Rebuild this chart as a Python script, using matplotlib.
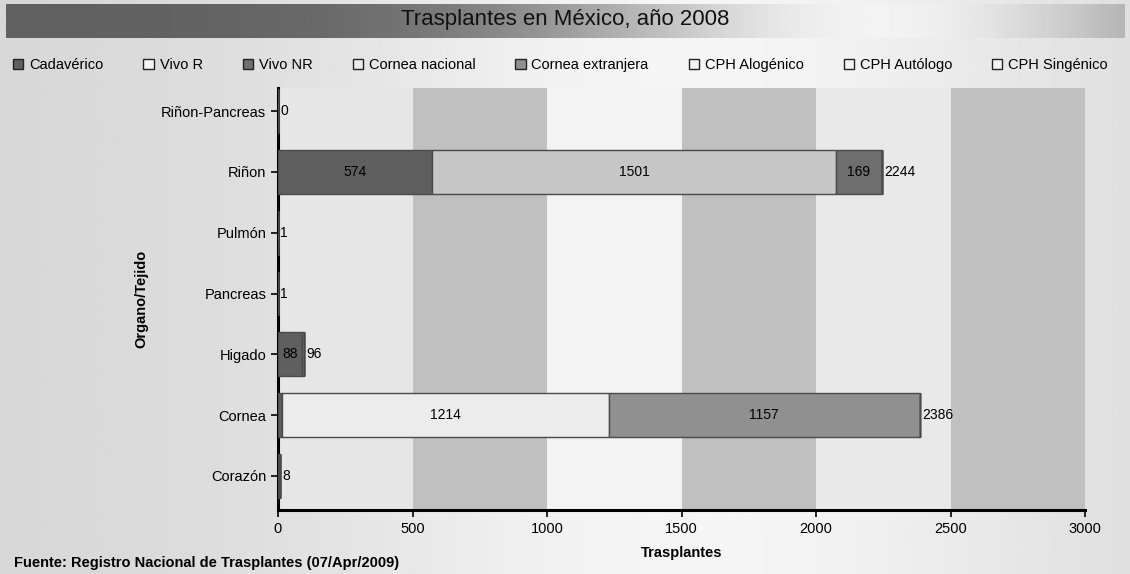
import numpy as np
import matplotlib
matplotlib.use('Agg')
import matplotlib.pyplot as plt
from matplotlib.patches import Patch

plt.rcParams['font.family'] = ['Liberation Sans', 'DejaVu Sans']

# organs, top to bottom
organos = ["Riñon-Pancreas", "Riñon", "Pulmón", "Pancreas", "Higado", "Cornea", "Corazón"]
series = ["Cadavérico", "Vivo R", "Vivo NR", "Cornea nacional", "Cornea extranjera",
          "CPH Alogénico", "CPH Autólogo", "CPH Singénico"]
cadaverico = [0, 574, 1, 1, 88, 15, 8]
vivo_r = [0, 1501, 0, 0, 8, 0, 0]
vivo_nr = [0, 169, 0, 0, 0, 0, 0]
cornea_nac = [0, 0, 0, 0, 0, 1214, 0]
cornea_ext = [0, 0, 0, 0, 0, 1157, 0]
cph_alo = [0, 0, 0, 0, 0, 0, 0]
cph_auto = [0, 0, 0, 0, 0, 0, 0]
cph_sin = [0, 0, 0, 0, 0, 0, 0]
values = [cadaverico, vivo_r, vivo_nr, cornea_nac, cornea_ext, cph_alo, cph_auto, cph_sin]
colors = ["#5f5f5f", "#c6c6c6", "#6e6e6e", "#ececec", "#909090", "#f4f4f4", "#f4f4f4", "#f4f4f4"]
xticks = [0, 500, 1000, 1500, 2000, 2500, 3000]

fig = plt.figure(figsize=(11.3, 5.74), dpi=100)

# background gradient
bg = fig.add_axes([0, 0, 1, 1], zorder=-10)
xx = np.linspace(0, 1, 400)
grad = 0.84 + 0.12 * np.exp(-((xx - 0.62) / 0.35) ** 2)
bg.imshow(np.tile(grad, (10, 1)), cmap='gray', vmin=0, vmax=1, aspect='auto',
          extent=[0, 1, 0, 1], origin='lower')
# title bar
tgrad = 0.38 + 0.57 * np.exp(-((xx - 0.78) / 0.30) ** 2)
bg.imshow(np.tile(tgrad, (10, 1)), cmap='gray', vmin=0, vmax=1, aspect='auto',
          extent=[0.005, 0.995, 1 - 38 / 574, 1 - 4 / 574], origin='lower')
bg.set_xlim(0, 1)
bg.set_ylim(0, 1)
bg.axis('off')
bg.text(0.5, 1 - 20 / 574, "Trasplantes en México, año 2008", ha='center', va='center',
        fontsize=16, color='#111111')

ax = fig.add_axes([278 / 1130, 64 / 574, 807 / 1130, 422 / 574])
ax.set_facecolor('none')
band_colors = ['#e6e6e6', '#c0c0c0', '#f3f3f3', '#c0c0c0', '#e9e9e9', '#c0c0c0']
for i, c in enumerate(band_colors):
    ax.axvspan(xticks[i], xticks[i + 1], color=c, zorder=0, lw=0)

y = np.arange(len(organos))
left = np.zeros(len(organos))
for s, vals, c in zip(series, values, colors):
    vals = np.array(vals, dtype=float)
    bars = ax.barh(y, vals, left=left, height=0.72, color=c, edgecolor='#4a4a4a',
                   linewidth=1.0, zorder=3)
    for b, v in zip(bars, vals):
        if v >= 50:
            ax.text(b.get_x() + b.get_width() / 2, b.get_y() + b.get_height() / 2,
                    f"{int(v)}", ha='center', va='center', fontsize=10, zorder=4)
    left += vals

for yi, tot in zip(y, left):
    ax.text(tot + 8, yi, f"{int(tot)}", ha='left', va='center', fontsize=10, zorder=4)

ax.set_xlim(0, 3000)
ax.set_ylim(6.56, -0.38)
ax.set_yticks(y)
ax.set_yticklabels(organos, fontsize=10.5)
ax.set_xticks(xticks)
ax.set_xticklabels([str(t) for t in xticks], fontsize=10.5)
ax.tick_params(axis='both', direction='out', length=5, width=1.2)
for sp in ['top', 'right']:
    ax.spines[sp].set_visible(False)
for sp in ['left', 'bottom']:
    ax.spines[sp].set_linewidth(2.2)
ax.set_xlabel("Trasplantes", fontsize=10.5, fontweight='bold', labelpad=7)
ax.set_ylabel("Organo/Tejido", fontsize=10.5, fontweight='bold', labelpad=9)

handles = [Patch(facecolor=c, edgecolor='#222222', linewidth=1) for c in colors]
handles[1] = Patch(facecolor='#f4f4f4', edgecolor='#222222', linewidth=1)
fig.legend(handles, series, loc='lower left', ncol=8, mode='expand', frameon=False,
           bbox_to_anchor=(0.0, 1 - 85 / 574, 0.992, 0.03), fontsize=10.5,
           handlelength=0.7, handleheight=0.7, handletextpad=0.4)

fig.text(0.012, 4 / 574, "Fuente: Registro Nacional de Trasplantes (07/Apr/2009)",
         fontsize=10.5, fontweight='bold', ha='left', va='bottom')

fig.savefig("out.png", dpi=100)
